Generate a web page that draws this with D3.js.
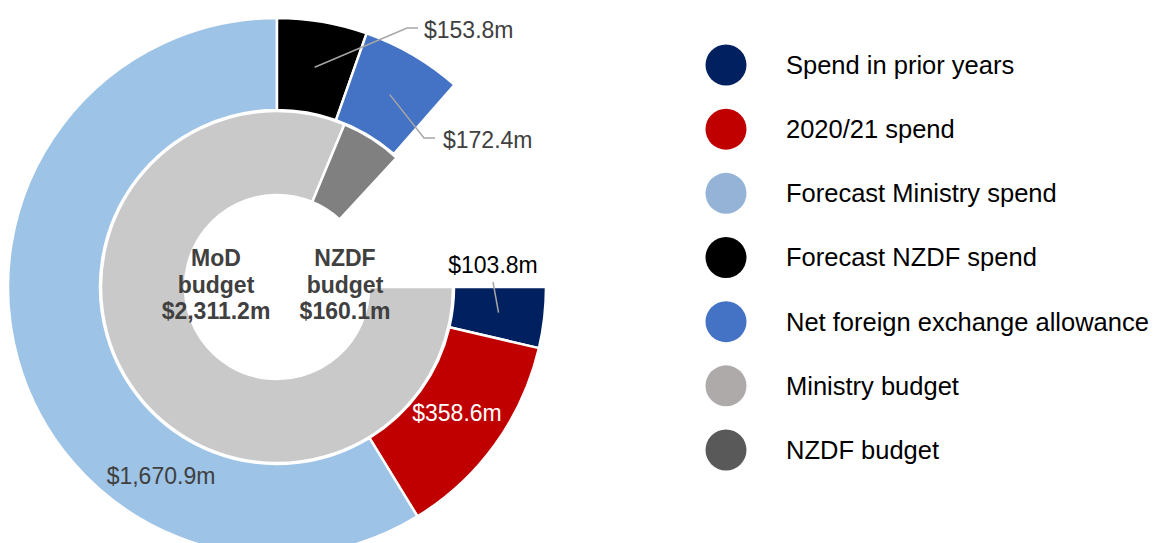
<!DOCTYPE html>
<html>
<head>
<meta charset="utf-8">
<script src="https://cdn.jsdelivr.net/npm/d3@7"></script>
<style>
	body { margin: 0; background: #fff; }
	svg { display: block; font-family: "Liberation Sans", Arial, sans-serif; }
</style>
</head>
<body>
<svg id="chart" width="1157" height="543"></svg>
<script>
// outer ring: spend breakdown, inner ring: budgets ($m)
var spendNames = ["Spend in prior years", "2020/21 spend", "Forecast Ministry spend",
                  "Forecast NZDF spend", "Net foreign exchange allowance"];
var spendValues = [103.8, 358.6, 1670.9, 153.8, 172.4];
var spendColors = ["#002060", "#C00000", "#9DC3E6", "#000000", "#4472C4"];

var budgetNames = ["Ministry budget", "NZDF budget"];
var budgetValues = [2311.2, 160.1];
var budgetColors = ["#C9C9C9", "#808080"];

var legendNames = spendNames.concat(budgetNames);
var legendColors = ["#002060", "#C00000", "#95B3D7", "#000000", "#4472C4", "#AEAAAA", "#595959"];

// the first three spend slices fill three quarters of the circle
var fullCircle = (spendValues[0] + spendValues[1] + spendValues[2]) / 0.75;

var svg = d3.select("#chart");
var cx = 277, cy = 287;

var angle = d3.scaleLinear()
	.domain([0, fullCircle])
	.range([Math.PI / 2, Math.PI / 2 + 2 * Math.PI]);

/**
 * Turn a list of values into arc data laid end to end from 3 o'clock.
 */
function stack(values) {
	var sum = 0;
	return values.map(function (v, i) {
		var d = { index: i, value: v, startAngle: angle(sum), endAngle: angle(sum + v) };
		sum += v;
		return d;
	});
}

var outerArc = d3.arc().innerRadius(177).outerRadius(269);
var innerArc = d3.arc().innerRadius(92).outerRadius(176);

var g = svg.append("g").attr("transform", "translate(" + cx + "," + cy + ")");

var outerData = stack(spendValues);
var innerData = stack(budgetValues);

g.selectAll("path.outer").data(outerData).join("path")
	.attr("class", "outer")
	.attr("d", outerArc)
	.attr("fill", d => spendColors[d.index])
	.attr("stroke", "#fff").attr("stroke-width", 2.5);

g.selectAll("path.inner").data(innerData).join("path")
	.attr("class", "inner")
	.attr("d", innerArc)
	.attr("fill", d => budgetColors[d.index])
	.attr("stroke", "#fff").attr("stroke-width", 2.5);

// data labels, some with leader lines from the slice centroid
var fmt = v => "$" + d3.format(",.1f")(v) + "m";
var labelSpots = [
	{ x: 493, y: 265, anchor: "middle", color: "#000", leader: [[216, -5]] },
	{ x: 457, y: 413, anchor: "middle", color: "#fff", leader: null },
	{ x: 161, y: 476, anchor: "middle", color: "#404040", leader: null },
	{ x: 424, y: 30, anchor: "start", color: "#404040", leader: [[130, -259], [141, -259]] },
	{ x: 443, y: 140, anchor: "start", color: "#404040", leader: [[147, -149], [158, -149]] }
];

outerData.forEach(function (d, i) {
	var spot = labelSpots[i];
	if (spot.leader) {
		var pts = [outerArc.centroid(d)].concat(spot.leader);
		g.append("path")
			.attr("d", d3.line()(pts))
			.attr("fill", "none")
			.attr("stroke", "#A6A6A6")
			.attr("stroke-width", 1.5);
	}
	svg.append("text")
		.attr("x", spot.x).attr("y", spot.y)
		.attr("dy", "0.35em")
		.attr("text-anchor", spot.anchor)
		.attr("fill", spot.color)
		.attr("font-size", 23)
		.text(fmt(d.value));
});

// budget labels sit in the hole
var budgetLabels = [["MoD", "budget"], ["NZDF", "budget"]];
var budgetX = [216, 345];
budgetValues.forEach(function (v, i) {
	var lines = budgetLabels[i].concat([fmt(v)]);
	var t = svg.append("text")
		.attr("text-anchor", "middle")
		.attr("font-weight", "bold")
		.attr("font-size", 23)
		.attr("fill", "#404040");
	lines.forEach(function (s, j) {
		t.append("tspan")
			.attr("x", budgetX[i])
			.attr("y", 258 + j * 26.5)
			.attr("dy", "0.35em")
			.text(s);
	});
});

// legend
var legendY = d3.scalePoint().domain(legendNames).range([65, 450]);
var legend = svg.append("g");
var rows = legend.selectAll("g").data(legendNames).join("g")
	.attr("transform", d => "translate(0," + legendY(d) + ")");
rows.append("circle")
	.attr("cx", 726).attr("r", 20.5)
	.attr("fill", (d, i) => legendColors[i]);
rows.append("text")
	.attr("x", 786)
	.attr("dy", "0.35em")
	.attr("font-size", 25.5)
	.attr("fill", "#000")
	.text(d => d);
</script>
</body>
</html>
